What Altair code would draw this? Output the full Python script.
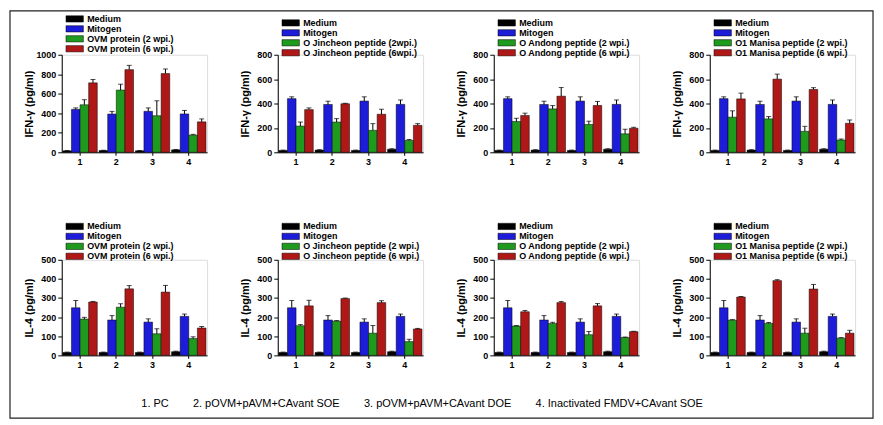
import altair as alt
import pandas as pd

groups = ["1", "2", "3", "4"]
colors = ["#000000", "#1C1CD9", "#1E9A1E", "#B01818"]

medium_ifn = [15, 18, 15, 25]
medium_ifn_err = [3, 3, 3, 4]
mitogen_ifn = [440, 392, 420, 393]
mitogen_ifn_err = [15, 27, 35, 36]

medium_il4 = [15, 15, 15, 19]
medium_il4_err = [2, 2, 2, 3]
mitogen_il4 = [249, 185, 174, 204]
mitogen_il4_err = [38, 23, 17, 12]

# IFN-gamma, week 2 and week 6 antigen responses
ovm_ifn_2 = [487, 638, 375, 176]
ovm_ifn_2_err = [52, 60, 153, 8]
ovm_ifn_6 = [712, 847, 807, 312]
ovm_ifn_6_err = [34, 44, 47, 30]

jin_ifn_2 = [215, 248, 180, 97]
jin_ifn_2_err = [33, 28, 55, 8]
jin_ifn_6 = [350, 398, 312, 221]
jin_ifn_6_err = [14, 4, 41, 14]

and_ifn_2 = [252, 356, 228, 151]
and_ifn_2_err = [27, 27, 27, 38]
and_ifn_6 = [302, 460, 384, 197]
and_ifn_6_err = [19, 71, 33, 8]

man_ifn_2 = [288, 274, 172, 101]
man_ifn_2_err = [52, 19, 41, 8]
man_ifn_6 = [438, 600, 515, 238]
man_ifn_6_err = [47, 41, 15, 27]

# IL-4
ovm_il4_2 = [190, 252, 113, 88]
ovm_il4_2_err = [9, 18, 26, 9]
ovm_il4_6 = [279, 348, 331, 143]
ovm_il4_6_err = [3, 17, 35, 8]

jin_il4_2 = [155, 179, 116, 72]
jin_il4_2_err = [6, 3, 40, 12]
jin_il4_6 = [259, 297, 276, 138]
jin_il4_6_err = [29, 3, 10, 3]

and_il4_2 = [153, 167, 108, 93]
and_il4_2_err = [3, 6, 17, 3]
and_il4_6 = [228, 276, 259, 124]
and_il4_6_err = [7, 6, 12, 2]

man_il4_2 = [184, 167, 116, 90]
man_il4_2_err = [3, 5, 26, 3]
man_il4_6 = [305, 391, 347, 116]
man_il4_6_err = [3, 5, 24, 15]

labels_top = [
    ["OVM protein (2 wpi.)", "OVM protein (6 wpi.)"],
    ["O Jincheon peptide (2wpi.)", "O Jincheon peptide (6wpi.)"],
    ["O Andong peptide (2 wpi.)", "O Andong peptide (6 wpi.)"],
    ["O1 Manisa peptide (2 wpi.)", "O1 Manisa peptide (6 wpi.)"],
]
labels_bot = [
    ["OVM protein (2 wpi.)", "OVM protein (6 wpi.)"],
    ["O Jincheon peptide (2 wpi.)", "O Jincheon peptide (6 wpi.)"],
    ["O Andong peptide (2 wpi.)", "O Andong peptide (6 wpi.)"],
    ["O1 Manisa peptide (2 wpi.)", "O1 Manisa peptide (6 wpi.)"],
]

top_series = [
    (ovm_ifn_2, ovm_ifn_2_err, ovm_ifn_6, ovm_ifn_6_err),
    (jin_ifn_2, jin_ifn_2_err, jin_ifn_6, jin_ifn_6_err),
    (and_ifn_2, and_ifn_2_err, and_ifn_6, and_ifn_6_err),
    (man_ifn_2, man_ifn_2_err, man_ifn_6, man_ifn_6_err),
]
bot_series = [
    (ovm_il4_2, ovm_il4_2_err, ovm_il4_6, ovm_il4_6_err),
    (jin_il4_2, jin_il4_2_err, jin_il4_6, jin_il4_6_err),
    (and_il4_2, and_il4_2_err, and_il4_6, and_il4_6_err),
    (man_il4_2, man_il4_2_err, man_il4_6, man_il4_6_err),
]

caption_items = ["1. PC", "2. pOVM+pAVM+CAvant SOE", "3. pOVM+pAVM+CAvant DOE",
                 "4. Inactivated FMDV+CAvant SOE"]
caption = ("\u00a0" * 8).join(caption_items)

FONT = "Liberation Sans"
PW = 146


def make_df(labels, med, mede, mit, mite, s2, s2e, s6, s6e):
    rows = []
    for lab, vals, errs in [(labels[0], med, mede), (labels[1], mit, mite),
                            (labels[2], s2, s2e), (labels[3], s6, s6e)]:
        for g, v, e in zip(groups, vals, errs):
            rows.append({"group": g, "series": lab, "value": v, "top": v + e})
    return pd.DataFrame(rows)


def panel(df, labels, ymax, ystep, ytitle, height, legend_y, row_pad, extra=None):
    xenc = alt.X("group:N", title=None,
                 scale=alt.Scale(paddingInner=0.05, paddingOuter=0.03),
                 axis=alt.Axis(labelAngle=0, labelFont=FONT, labelFontSize=9,
                               labelFontWeight="bold", labelColor="black",
                               domainColor="black", tickColor="black", tickSize=3,
                               labelPadding=2))
    xoff = alt.XOffset("series:N", scale=alt.Scale(domain=labels, paddingInner=0,
                                                   paddingOuter=0))
    yaxis = alt.Axis(values=list(range(0, ymax + 1, ystep)), grid=False, format="d",
                     labelFont=FONT, labelFontSize=9, labelFontWeight="bold",
                     labelColor="black", domainColor="black", tickColor="black",
                     tickSize=4, labelPadding=2, minExtent=24, maxExtent=24,
                     titlePadding=3, titleFont=FONT, titleFontSize=11,
                     titleFontWeight="bold", titleColor="black")
    yscale = alt.Scale(domain=[0, ymax], nice=False)
    base = alt.Chart(df)
    bars = base.mark_bar(stroke="black", strokeWidth=0.5).encode(
        x=xenc, xOffset=xoff,
        y=alt.Y("value:Q", title=ytitle, scale=yscale, axis=yaxis),
        color=alt.Color("series:N", scale=alt.Scale(domain=labels, range=colors),
                        legend=alt.Legend(orient="none", legendX=8.5, legendY=legend_y,
                                          title=None,
                                          symbolType="M-2.5,-0.9H2.5V0.9H-2.5Z",
                                          symbolSize=49, symbolStrokeColor="black",
                                          symbolStrokeWidth=0.5, labelFont=FONT,
                                          labelFontSize=9, labelFontWeight="bold",
                                          labelColor="black", rowPadding=row_pad,
                                          labelOffset=8, padding=0, labelLimit=300)),
    )
    rules = base.mark_rule(color="black", strokeWidth=1).encode(
        x=xenc, xOffset=xoff,
        y=alt.Y("value:Q", title=ytitle, scale=yscale, axis=yaxis), y2="top:Q")
    caps = base.mark_tick(color="black", thickness=1, size=5).encode(
        x=xenc, xOffset=xoff,
        y=alt.Y("top:Q", title=ytitle, scale=yscale, axis=yaxis))
    layers = [bars, rules, caps] + (extra or [])
    return alt.layer(*layers).properties(width=PW, height=height)


charts = []
for i in range(4):
    labs = ["Medium", "Mitogen"] + labels_top[i]
    s2, s2e, s6, s6e = top_series[i]
    df = make_df(labs, medium_ifn, medium_ifn_err, mitogen_ifn, mitogen_ifn_err,
                 s2, s2e, s6, s6e)
    ymax = 1000 if i == 0 else 800
    charts.append(panel(df, labs, ymax, 200, "IFN-\u03b3 (pg/ml)", 98,
                        -40.5 if i == 0 else -36.5, 0))

cap_layer = alt.Chart(pd.DataFrame({"t": [caption]})).mark_text(
    font=FONT, fontSize=11, align="center", baseline="middle", color="black"
).encode(x=alt.value(362), y=alt.value(145), text="t:N")
border_layer = alt.Chart(pd.DataFrame({"b": [0]})).mark_rect(
    fill="white", fillOpacity=0, stroke="#222222", strokeWidth=1.2
).encode(x=alt.value(-52), x2=alt.value(815), y=alt.value(-250), y2=alt.value(159))

for i in range(4):
    labs = ["Medium", "Mitogen"] + labels_bot[i]
    s2, s2e, s6, s6e = bot_series[i]
    df = make_df(labs, medium_il4, medium_il4_err, mitogen_il4, mitogen_il4_err,
                 s2, s2e, s6, s6e)
    extra = [cap_layer, border_layer] if i == 0 else None
    charts.append(panel(df, labs, 500, 100, "IL-4 (pg/ml)", 96, -38, -0.9, extra))

chart = alt.concat(*charts, columns=4, spacing={"row": 108, "column": 71},
                   bounds="flush").resolve_scale(
    color="independent", x="independent", y="independent", xOffset="independent"
).properties(padding=0).configure_view(strokeWidth=0).configure(background="white")

chart.save("out.html", embed_options={"renderer": "svg", "actions": False})
